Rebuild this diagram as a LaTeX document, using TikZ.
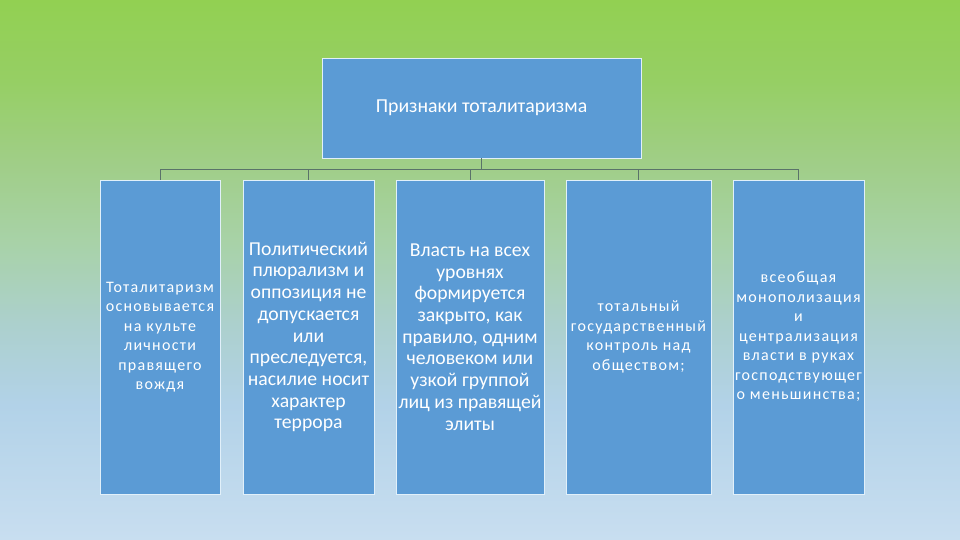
\documentclass[tikz,border=0pt]{standalone}
\usepackage{fontspec}
\setmainfont{Carlito}
\newfontfamily\spaced[LetterSpace=8]{Carlito}
\definecolor{boxblue}{RGB}{91,155,213}
\definecolor{edgecol}{RGB}{225,240,250}
\definecolor{conncol}{RGB}{90,115,105}
\definecolor{bga}{RGB}{146,208,82}
\definecolor{bgb}{RGB}{150,207,100}
\definecolor{bgc}{RGB}{160,206,135}
\definecolor{bgd}{RGB}{168,210,168}
\definecolor{bge}{RGB}{172,208,205}
\definecolor{bgf}{RGB}{178,210,232}
\definecolor{bgg}{RGB}{200,222,240}
\pgfdeclareverticalshading{bgshade}{100bp}{color(0bp)=(bgg); color(25bp)=(bgg); color(37.5bp)=(bgf); color(45bp)=(bge); color(52.5bp)=(bgd); color(60bp)=(bgc); color(67.5bp)=(bgb); color(75bp)=(bga); color(100bp)=(bga)}
\begin{document}
\begin{tikzpicture}[x=1pt,y=-1pt,
  box/.style={draw=edgecol, line width=0.8pt, fill=boxblue, text=white, inner sep=0pt, align=center},
  colbox/.style={box, minimum height=314},
  bigtext/.style={font=\fontsize{19.7}{21.7}\selectfont},
  smalltext/.style={font=\fontsize{16}{19.5}\spaced},
  conn/.style={draw=conncol, line width=0.8pt}]
\useasboundingbox (0,0) rectangle (960,540);
\shade[shading=bgshade] (0,0) rectangle (960,540);
\node[box, minimum width=319, minimum height=100, font=\fontsize{19.8}{22}\selectfont] (top) at (481.5,108) {Признаки тоталитаризма};
\node[colbox, minimum width=120, smalltext] (b1) at (160,337) {Тоталитаризм\\основывается\\на культе\\личности\\правящего\\вождя};
\node[colbox, minimum width=131, bigtext] (b2) at (308.5,337) {Политический\\плюрализм и\\оппозиция не\\допускается\\или\\преследуется,\\насилие носит\\характер\\террора};
\node[colbox, minimum width=148, bigtext] (b3) at (470,337) {Власть на всех\\уровнях\\формируется\\закрыто, как\\правило, одним\\человеком или\\узкой группой\\лиц из правящей\\элиты};
\node[colbox, minimum width=145, smalltext] (b4) at (638.5,337) {тотальный\\государственный\\контроль над\\обществом;};
\node[colbox, minimum width=131, smalltext] (b5) at (798.5,337) {всеобщая\\монополизация\\и\\централизация\\власти в руках\\господствующег\\о меньшинства;};
\foreach \b in {b1,b2,b3,b4,b5}
  \draw[conn] (top.south) -- ++(0,11) -| (\b.north);
\end{tikzpicture}
\end{document}
